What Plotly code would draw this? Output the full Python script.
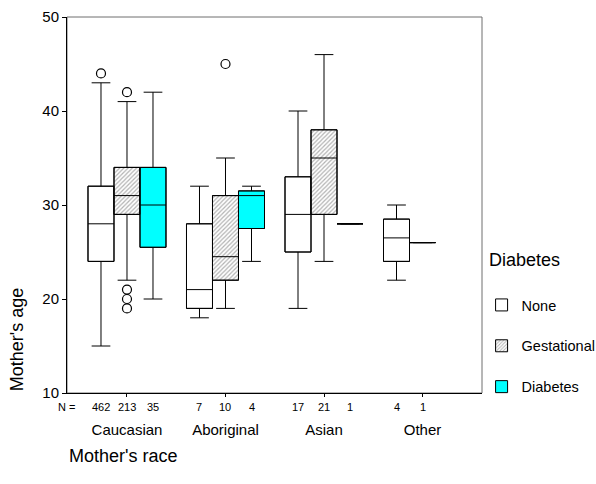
import plotly.graph_objects as go

# ---------------- data ----------------
races = ["Caucasian", "Aboriginal", "Asian", "Other"]
series_names = ["None", "Gestational", "Diabetes"]

none_n = [462, 7, 17, 4]
none_lo = [15, 18, 19, 22]
none_q1 = [24, 19, 25, 24]
none_med = [28, 21, 29, 26.5]
none_q3 = [32, 28, 33, 28.5]
none_hi = [43, 32, 40, 30]
none_out = [[44], [], [], []]

gest_n = [213, 10, 21, None]
gest_lo = [22, 19, 24, None]
gest_q1 = [29, 22, 29, None]
gest_med = [31, 24.5, 35, None]
gest_q3 = [34, 31, 38, None]
gest_hi = [41, 35, 46, None]
gest_out = [[42, 21, 20, 19], [45], [], []]

diab_n = [35, 4, 1, 1]
diab_lo = [20, 24, 28, 26]
diab_q1 = [25.5, 27.5, 28, 26]
diab_med = [30, 31, 28, 26]
diab_q3 = [34, 31.5, 28, 26]
diab_hi = [42, 32, 28, 26]
diab_out = [[], [], [], []]

y_ticks = [10, 20, 30, 40, 50]

# ---------------- styling ----------------
FONT = "Liberation Sans, Arial, sans-serif"
STEP = 26 / 98.5  # slot spacing within a group, in group units

series = [
    dict(name="None", n=none_n, lo=none_lo, q1=none_q1, med=none_med, q3=none_q3, hi=none_hi, out=none_out,
         marker=dict(color="white", line=dict(color="black", width=1))),
    dict(name="Gestational", n=gest_n, lo=gest_lo, q1=gest_q1, med=gest_med, q3=gest_q3, hi=gest_hi, out=gest_out,
         marker=dict(color="white", line=dict(color="black", width=1),
                     pattern=dict(shape="/", fgcolor="#666666", bgcolor="white", size=3, solidity=0.4))),
    dict(name="Diabetes", n=diab_n, lo=diab_lo, q1=diab_q1, med=diab_med, q3=diab_q3, hi=diab_hi, out=diab_out,
         marker=dict(color="#00ffff", line=dict(color="black", width=1))),
]

# slot positions: present series are laid out left to right within each group
pos = {s["name"]: [None] * len(races) for s in series}
for gi in range(len(races)):
    present = [s for s in series if s["n"][gi] is not None]
    for slot, s in enumerate(present):
        pos[s["name"]][gi] = gi + (slot - 1) * STEP

fig = go.Figure()
annotations = []

for s in series:
    idx = [i for i in range(len(races)) if s["n"][i] is not None]
    xs = [pos[s["name"]][i] for i in idx]
    # box body (for fills / hatch pattern) as bars
    fig.add_trace(go.Bar(
        x=xs, y=[s["q3"][i] - s["q1"][i] for i in idx], base=[s["q1"][i] for i in idx],
        width=STEP, marker=s["marker"], name=s["name"], legendgroup=s["name"],
        showlegend=True, hoverinfo="skip",
    ))
    fig.add_trace(go.Box(
        x=xs, q1=[s["q1"][i] for i in idx], median=[s["med"][i] for i in idx],
        q3=[s["q3"][i] for i in idx], lowerfence=[s["lo"][i] for i in idx],
        upperfence=[s["hi"][i] for i in idx], width=STEP, whiskerwidth=0.72,
        fillcolor="rgba(0,0,0,0)", line=dict(color="black", width=1),
        boxpoints=False, showlegend=False, legendgroup=s["name"], name=s["name"],
    ))
    ox, oy = [], []
    for i in idx:
        for v in s["out"][i]:
            ox.append(pos[s["name"]][i])
            oy.append(v)
    if ox:
        fig.add_trace(go.Scatter(
            x=ox, y=oy, mode="markers", showlegend=False, legendgroup=s["name"],
            marker=dict(symbol="circle-open", size=9, color="black", line=dict(width=1.2)),
        ))
    for i in idx:
        annotations.append(dict(
            x=pos[s["name"]][i], xref="x", y=0, yref="paper", yanchor="middle", yshift=-14,
            text=str(s["n"][i]), showarrow=False, font=dict(size=11, color="black", family=FONT),
        ))

annotations.append(dict(x=-0.002, xref="paper", y=0, yref="paper", yanchor="middle", yshift=-14,
                        xanchor="center", text="N =", showarrow=False,
                        font=dict(size=11, color="black", family=FONT)))
annotations.append(dict(x=-0.12, xref="paper", y=0, yref="paper", xanchor="center", yanchor="bottom",
                        textangle=-90, text="Mother's age", showarrow=False,
                        font=dict(size=18, color="black", family=FONT)))
annotations.append(dict(x=0, xref="paper", y=-0.1676, yref="paper", xanchor="left", yanchor="middle",
                        text="Mother's race", showarrow=False,
                        font=dict(size=18, color="black", family=FONT)))
# legend heading
annotations.append(dict(x=1.012, xref="paper", y=(393 - 260) / 376, yref="paper", xanchor="left",
                        yanchor="middle", text="Diabetes", showarrow=False,
                        font=dict(size=18, color="black", family=FONT)))

fig.update_layout(
    width=596, height=484,
    margin=dict(l=67, r=114, t=17, b=91, autoexpand=False),
    paper_bgcolor="white", plot_bgcolor="white",
    font=dict(family=FONT, color="black"),
    barmode="overlay", boxmode="overlay",
    showlegend=True,
    legend=dict(
        font=dict(size=14.5, family=FONT),
        x=0.999, xanchor="left", y=(393 - 289) / 376, yanchor="top",
        traceorder="grouped", tracegroupgap=19, bgcolor="rgba(0,0,0,0)",
    ),
    annotations=annotations,
    shapes=[dict(type="rect", xref="paper", yref="paper", x0=0, x1=1, y0=0, y1=1,
                 line=dict(color="#6e6e6e", width=1), layer="below")],
    xaxis=dict(
        range=[-0.609, 3.604], tickvals=list(range(len(races))), ticktext=races,
        ticks="outside", ticklen=3, tickcolor="black", showgrid=False, zeroline=False,
        showline=True, linecolor="black", linewidth=1,
        tickfont=dict(size=15, family=FONT, color="black"), ticklabelstandoff=20,
        automargin=False,
    ),
    yaxis=dict(
        range=[10, 50], tickvals=y_ticks, ticks="outside", ticklen=4, tickcolor="black",
        showgrid=False, zeroline=False, showline=True, linecolor="black", linewidth=1,
        tickfont=dict(size=15, family=FONT, color="black"), automargin=False,
    ),
)

fig.write_html("out.html", config={"displayModeBar": False},
               post_script="document.body.style.margin='0px';")
